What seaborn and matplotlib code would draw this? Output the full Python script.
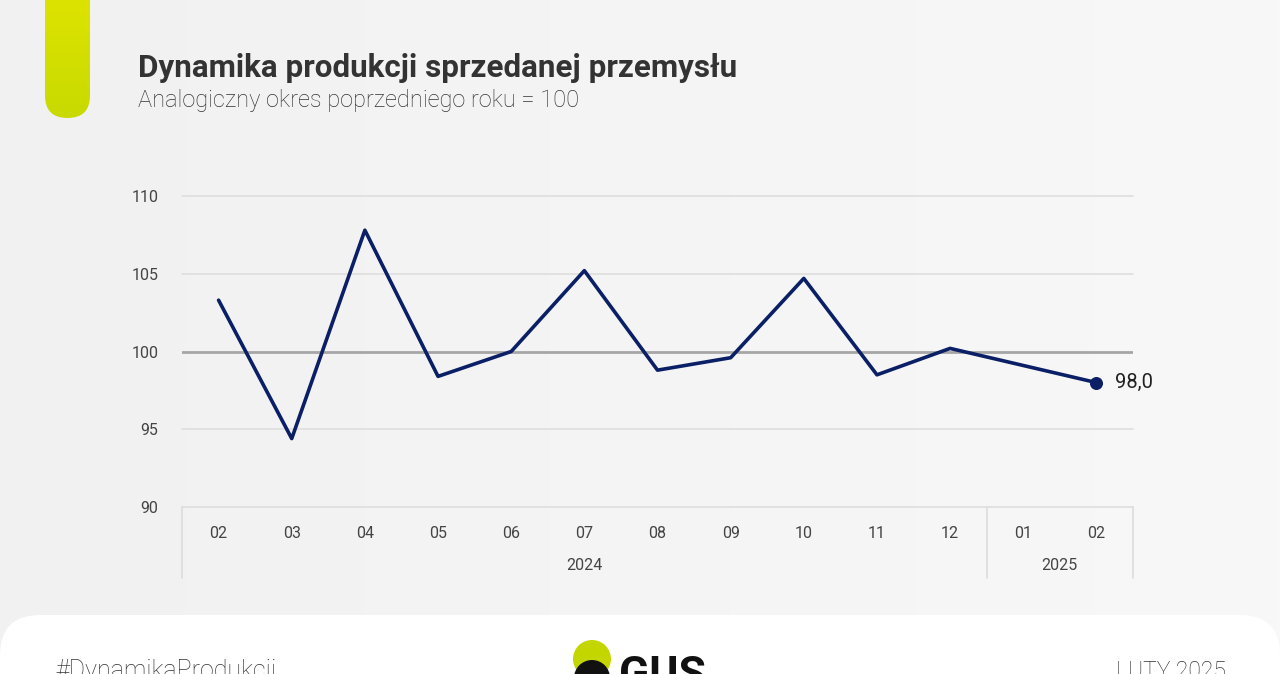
import numpy as np
import pandas as pd
import matplotlib
matplotlib.use("Agg")
import matplotlib.pyplot as plt
from matplotlib.patches import FancyBboxPatch, Circle
from matplotlib.colors import LinearSegmentedColormap
import seaborn as sns

# ---- data ----
months = ["02", "03", "04", "05", "06", "07", "08", "09", "10", "11", "12", "01", "02"]
years = ["2024"] * 11 + ["2025"] * 2
values = [103.3, 94.4, 107.8, 98.4, 100.0, 105.2, 98.8, 99.6, 104.7, 98.5, 100.2, 99.1, 98.0]
y_ticks = [90, 95, 100, 105, 110]
title = "Dynamika produkcji sprzedanej przemysłu"
subtitle = "Analogiczny okres poprzedniego roku = 100"
last_label = "98,0"

sns.set_theme(style="white")
plt.rcParams["font.family"] = ["Roboto", "DejaVu Sans"]

W, H = 1280, 674
fig = plt.figure(figsize=(W / 100, H / 100), dpi=100)

# background layer in pixel coordinates (origin top-left)
bg = fig.add_axes([0, 0, 1, 1], zorder=-10)
grad = np.linspace(0, 1, 256).reshape(1, -1)
cm = LinearSegmentedColormap.from_list("bg", ["#f1f1f1", "#f8f8f8"])
bg.imshow(grad, aspect="auto", cmap=cm, extent=[0, W, H, 0])
bg.set_xlim(0, W)
bg.set_ylim(H, 0)
bg.axis("off")

# green accent bar (rounded bottom, vertical gradient)
bar = FancyBboxPatch((45, -60), 45, 178, boxstyle="round,pad=0,rounding_size=22.5",
                     facecolor="none", edgecolor="none")
bg.add_patch(bar)
bar_grad = np.linspace(0, 1, 256).reshape(-1, 1)
cm_bar = LinearSegmentedColormap.from_list("bar", ["#dde300", "#c8da00"])
im = bg.imshow(bar_grad, aspect="auto", cmap=cm_bar, extent=[45, 90, 118, 0], zorder=2)
im.set_clip_path(bar)
bg.set_xlim(0, W)
bg.set_ylim(H, 0)

# footer card
foot = FancyBboxPatch((0, 615), W, 120, boxstyle="round,pad=0,rounding_size=40",
                      facecolor="white", edgecolor="none", zorder=3)
bg.add_patch(foot)

# titles
fig.text(138 / W, 1 - 68 / H, title, fontsize=22.6, fontweight="bold", color="#333333",
         va="center", ha="left")
fig.text(138 / W, 1 - 100 / H, subtitle, fontsize=17, fontweight="light", color="#333333",
         va="center", ha="left")

# footer texts
fig.text(55 / W, 1 - 671 / H, "#DynamikaProdukcji", fontsize=18, fontweight="light",
         color="#333333", va="center", ha="left")
fig.text(1226 / W, 1 - 671 / H, "LUTY 2025", fontsize=16.5, fontweight="light",
         color="#333333", va="center", ha="right")
bg.add_patch(Circle((592, 698), 18, facecolor="#0b1f66", edgecolor="none", zorder=4))
bg.add_patch(Circle((592, 659), 19, facecolor="#c3d600", edgecolor="none", zorder=5))
bg.add_patch(Circle((592, 678), 18, facecolor="#111111", edgecolor="none", zorder=6))
bg.text(619, 688, "GUS", fontsize=32, fontweight="bold", color="#111111",
        va="baseline", ha="left", zorder=7)

# main axes
ax = fig.add_axes([182 / W, 1 - 507 / H, (1133 - 182) / W, (507 - 196) / H])
ax.set_facecolor("none")
df = pd.DataFrame({"pos": np.arange(len(values)), "value": values})
sns.lineplot(data=df, x="pos", y="value", ax=ax, color="#0b1f66", linewidth=2.6,
             sort=False, zorder=5)
ax.scatter([df["pos"].iloc[-1]], [values[-1]], s=70, color="#0b1f66", zorder=6,
           clip_on=False)
ax.text(df["pos"].iloc[-1] + 0.26, values[-1], last_label, fontsize=14.5,
        color="#222222", va="center", ha="left")

ax.set_xlim(-0.5, len(values) - 0.5)
ax.set_ylim(90, 110)
for t in y_ticks:
    if t == 100:
        ax.axhline(t, color="#a6a6a6", linewidth=2, zorder=2)
    else:
        ax.axhline(t, color="#dedede", linewidth=1.2, zorder=1, clip_on=False)
for s in ax.spines.values():
    s.set_visible(False)
ax.set_yticks(y_ticks)
ax.set_yticklabels([str(t) for t in y_ticks], fontsize=11.5, color="#444444")
ax.tick_params(axis="y", length=0, pad=17)
ax.set_xticks(np.arange(len(values)))
ax.set_xticklabels(months, fontsize=11.5, color="#444444")
ax.tick_params(axis="x", length=0, pad=14)
ax.set_xlabel("")
ax.set_ylabel("")

# year groups
trans = ax.get_xaxis_transform()
depth = (578 - 507) / (507 - 196)
year_names = list(dict.fromkeys(years))
for yname in year_names:
    idx = [i for i, y in enumerate(years) if y == yname]
    ax.text(np.mean(idx), -(566 - 507) / (507 - 196), yname, transform=trans,
            fontsize=11.5, color="#444444", ha="center", va="center")
bounds = [-0.5] + [i + 0.5 for i in range(len(years) - 1) if years[i] != years[i + 1]] + [len(years) - 0.5]
for b in bounds:
    ax.plot([b, b], [0, -depth], transform=trans, color="#dcdcdc", linewidth=1.2,
            clip_on=False)

fig.savefig("out.png", dpi=100)
